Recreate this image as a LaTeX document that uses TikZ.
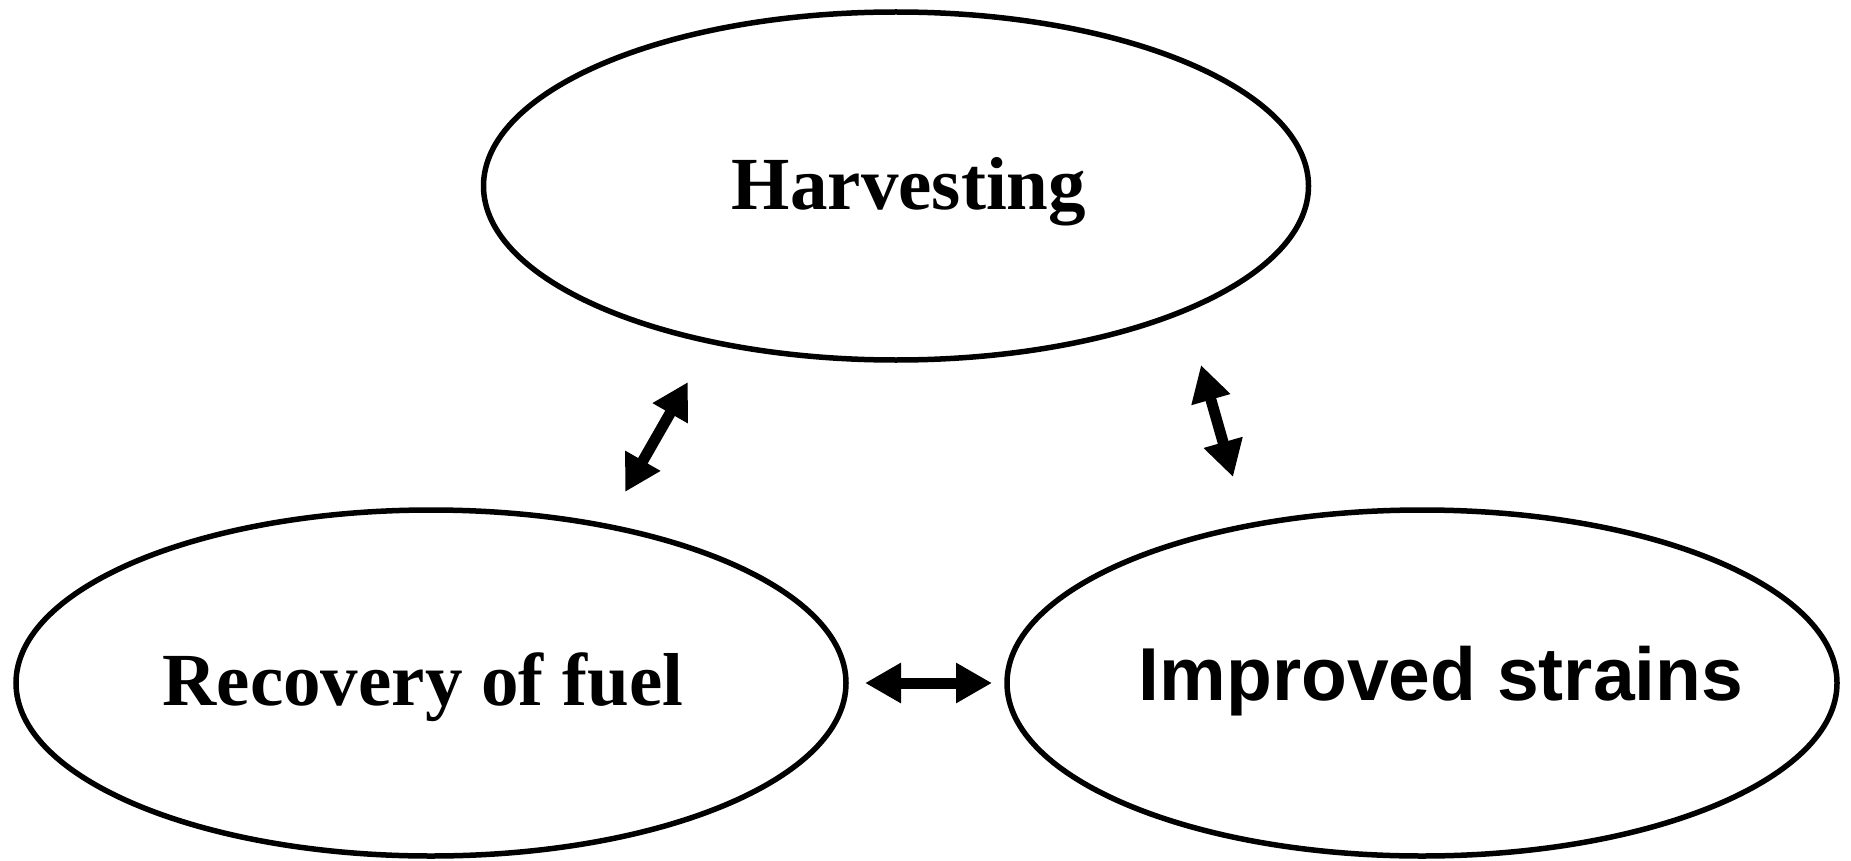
\documentclass[tikz,border=0pt]{standalone}
\usepackage{fontspec}
\setmainfont{Liberation Serif}
\setsansfont{Liberation Sans}
\usetikzlibrary{shapes.geometric,arrows.meta}
\begin{document}
\begin{tikzpicture}[x=1pt,y=-1pt,
  oval/.style={draw,line width=5.5pt,ellipse,inner sep=0pt},
  serlabel/.style={anchor=base,inner sep=0pt,font=\fontsize{75}{78}\selectfont\bfseries},
  sanslabel/.style={anchor=base,inner sep=0pt,font=\fontsize{75}{78}\selectfont\sffamily\bfseries},
  link/.style={line width=11pt,{Triangle[length=36pt,width=38pt]}-{Triangle[length=36pt,width=38pt]}}]
\useasboundingbox (0,0) rectangle (1851,861);
\node[oval,minimum width=825pt,minimum height=348pt] (harv) at (896,186) {};
\node[oval,minimum width=830pt,minimum height=346pt] (rec) at (431,683) {};
\node[oval,minimum width=830pt,minimum height=346pt] (imp) at (1422,683) {};
\node[serlabel] (harvt) at (909,209) {Harvesting};
\node[serlabel] (rect) at (423,705) {Recovery of fuel};
\node[sanslabel] (impt) at (1441,700) {Improved strains};
\coordinate (a1) at (688,382);
\coordinate (a2) at (625,492);
\coordinate (b1) at (1201,365);
\coordinate (b2) at (1233,477);
\coordinate (c1) at (865,683);
\coordinate (c2) at (992,683);
\draw[link] (a2) -- (a1);
\draw[link] (b1) -- (b2);
\draw[link] (c1) -- (c2);
\end{tikzpicture}
\end{document}
